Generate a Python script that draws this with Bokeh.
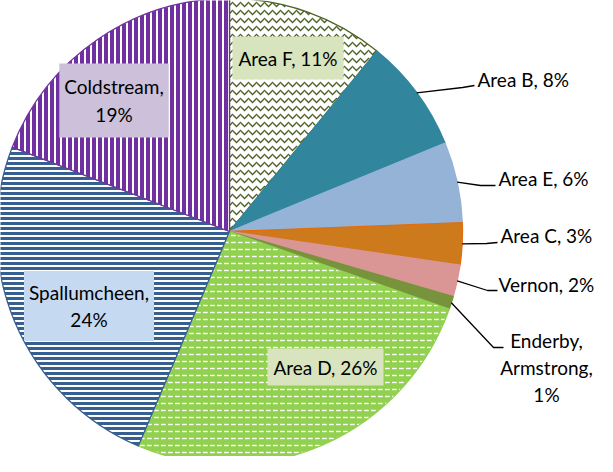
import numpy as np
from bokeh.plotting import figure
from bokeh.models import Range1d
from bokeh.core.properties import value
from bokeh.embed import file_html
from bokeh.resources import INLINE

# ---- data (clockwise from 12 o'clock) ----
areas = ["Area F", "Area B", "Area E", "Area C", "Vernon",
         "Enderby,\nArmstrong", "Area D", "Spallumcheen", "Coldstream"]
shares = [10.9, 7.9, 5.6, 2.9, 2.2, 0.9, 26.0, 24.5, 19.1]

fills = ["white", "#31859C", "#95B3D7", "#CC7A1C", "#D99694",
         "#77933C", "#92D050", "white", "white"]
lines = ["#4F6228", "#31859C", "#95B3D7", "#E46C0A", "#D99694",
         "#77933C", "#92D050", "#376092", "#7030A0"]
hatches = ["horizontal_wave", " ", " ", " ", " ", " ",
           "horizontal_dash", "horizontal_line", "vertical_line"]
hatch_colors = ["#4F6228", None, None, None, None, None,
                "white", "#376092", "#7030A0"]

W, H = 597, 456
FONT = "Lato"
FS = "19px"
LH = 1.18

p = figure(width=W, height=H, output_backend="svg", toolbar_location=None,
           x_range=Range1d(0, W), y_range=Range1d(0, H),
           min_border=0, outline_line_color=None)
p.axis.visible = False
p.grid.visible = False
p.background_fill_color = "white"
p.border_fill_color = "white"

cx, cy, R = 229, H - 231, 233

frac = np.array(shares) / sum(shares)
cum = np.concatenate([[0], np.cumsum(frac)])
start = np.pi / 2 - 2 * np.pi * cum[:-1]
end = np.pi / 2 - 2 * np.pi * cum[1:]
mid = (start + end) / 2

hscale = {"horizontal_wave": 8, "horizontal_dash": 7,
          "horizontal_line": 5, "vertical_line": 6}
hweight = {"horizontal_wave": 1.3, "horizontal_dash": 1.4,
           "horizontal_line": 3, "vertical_line": 4}
for i in range(len(areas)):
    kw = {}
    if hatches[i] != " ":
        kw = dict(hatch_pattern=hatches[i], hatch_color=hatch_colors[i],
                  hatch_scale=hscale[hatches[i]],
                  hatch_weight=hweight[hatches[i]])
    p.wedge(x=cx, y=cy, radius=R, start_angle=start[i], end_angle=end[i],
            direction="clock", fill_color=fills[i], line_color=lines[i],
            line_width=1.3, **kw)

# inside labels with boxes
inside = {0: (287.5, 57.5, "#D7E4BD", (6, 10)),
          6: (325, 366.5, "#D7E4BD", (6, 7)),
          7: (88.5, 305.5, "#C5D9F1", (5, 10)),
          8: (113.5, 100, "#CCC0DA", (5, 12))}
for i, (x, y, bg, pad) in inside.items():
    sep = ",\n" if i in (7, 8) else ", "
    t = f"{areas[i]}{sep}{round(shares[i])}%"
    p.text(x=[x], y=[H - y], text=[t], text_font=value(FONT),
           text_font_size=FS, text_align="center", text_baseline="middle",
           text_color="black", text_line_height=LH,
           background_fill_color=bg, padding=pad)

# outside labels with leader lines
outside = {1: ((462, 87), (474, 85), (477, 79), "left"),
           2: ((480, 185), (495, 185), (498, 178), "left"),
           3: ((486, 243), (497, 242), (500, 235), "left"),
           4: ((487, 290), (497, 290), (498, 284), "left"),
           5: ((493, 347), (503, 347), (546, 367), "center")}
for i, (e1, e2, tp, al) in outside.items():
    sx = cx + R * np.cos(mid[i])
    sy = cy + R * np.sin(mid[i])
    p.line(x=[sx, e1[0], e2[0]], y=[sy, H - e1[1], H - e2[1]],
           line_color="black", line_width=1.3)
    sep = ",\n" if i == 5 else ", "
    t = f"{areas[i]}{sep}{round(shares[i])}%"
    p.text(x=[tp[0]], y=[H - tp[1]], text=[t], text_font=value(FONT),
           text_font_size=FS, text_align=al, text_baseline="middle",
           text_color="black", text_line_height=LH)

open("out.html", "w").write(file_html(p, INLINE))
